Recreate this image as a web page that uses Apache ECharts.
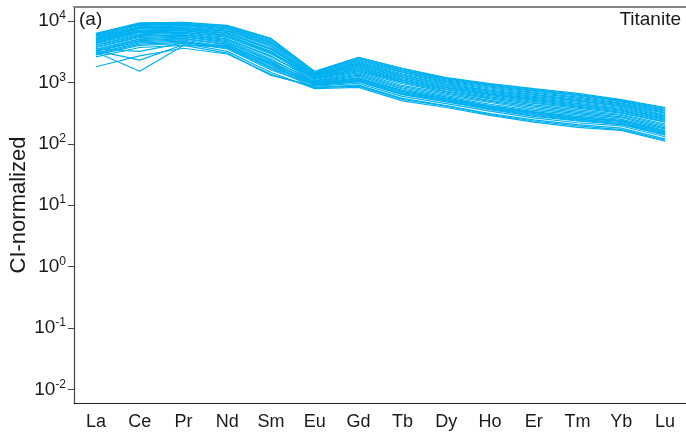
<!DOCTYPE html>
<html>
<head>
<meta charset="utf-8">
<script src="https://cdn.jsdelivr.net/npm/echarts@6/dist/echarts.min.js"></script>
<style>
html,body{margin:0;padding:0;background:#fff;}
#chart{width:686px;height:441px;}
</style>
</head>
<body>
<div id="chart"></div>
<script>
// Categories (REE) and y-axis tick exponents (10^n)
const categories = ['La','Ce','Pr','Nd','Sm','Eu','Gd','Tb','Dy','Ho','Er','Tm','Yb','Lu'];
const yTickExponents = [-2,-1,0,1,2,3,4];

// CI-normalized values, one array per titanite analysis
const s01 = [6300, 9300, 9500, 8500, 5200, 1480, 2510, 1660, 1170, 930, 770, 640, 510, 380];
const s02 = [6200, 9100, 9300, 8300, 5100, 1510, 2570, 1700, 1200, 955, 790, 660, 525, 390];
const s03 = [6000, 8900, 9100, 8100, 4900, 1450, 2340, 1550, 1100, 870, 720, 600, 480, 350];
const s04 = [5900, 8700, 8900, 7800, 4700, 1380, 2190, 1450, 1020, 810, 670, 555, 445, 325];
const s05 = [5800, 8500, 8700, 7600, 4500, 1470, 2430, 1580, 1140, 900, 740, 620, 495, 365];
const s06 = [5600, 8100, 8500, 7400, 4400, 1410, 2270, 1480, 1060, 840, 690, 575, 460, 340];
const s07 = [5400, 7900, 8300, 7100, 4200, 1310, 2000, 1290, 930, 720, 590, 495, 405, 290];
const s08 = [5200, 7800, 7900, 6900, 4000, 1350, 2120, 1380, 990, 780, 640, 530, 430, 315];
const s09 = [5100, 7600, 7800, 6800, 3800, 1260, 1860, 1200, 870, 670, 550, 455, 375, 270];
const s10 = [5000, 7400, 7600, 6500, 3600, 1320, 2040, 1320, 950, 750, 620, 510, 415, 300];
const s11 = [4900, 7100, 7400, 6300, 3500, 1200, 1740, 1100, 810, 630, 510, 425, 350, 250];
const s12 = [4800, 6900, 7200, 6200, 3400, 1290, 1910, 1230, 890, 700, 570, 475, 390, 280];
const s13 = [4600, 6800, 7100, 5900, 3200, 1170, 1620, 1020, 760, 580, 470, 395, 325, 230];
const s14 = [4500, 6600, 6900, 5800, 3100, 1230, 1780, 1150, 830, 650, 530, 440, 365, 260];
const s15 = [4400, 6500, 6600, 5600, 3000, 1120, 1500, 950, 700, 540, 430, 360, 300, 210];
const s16 = [4300, 6200, 6500, 5400, 2900, 1180, 1660, 1070, 780, 610, 490, 410, 340, 240];
const s17 = [4100, 6000, 6300, 5100, 2700, 1050, 1370, 850, 640, 490, 390, 325, 275, 190];
const s18 = [4000, 5800, 6000, 5000, 2600, 1150, 1550, 1000, 720, 560, 455, 380, 315, 225];
const s19 = [3800, 5600, 5900, 4800, 2400, 1000, 1250, 780, 580, 440, 350, 295, 250, 175];
const s20 = [3700, 5400, 5600, 4600, 2300, 1070, 1430, 890, 670, 510, 410, 340, 290, 200];
const s21 = [3500, 5100, 5500, 4400, 2200, 950, 1140, 710, 530, 400, 320, 265, 230, 155];
const s22 = [3400, 5000, 5200, 4200, 2000, 1020, 1310, 810, 610, 470, 370, 310, 265, 180];
const s23 = [3300, 4800, 5100, 4100, 1950, 890, 1020, 630, 480, 360, 280, 235, 205, 140];
const s24 = [3200, 4600, 4900, 3800, 1800, 980, 1190, 740, 560, 420, 335, 280, 240, 165];
const s25 = [3000, 4400, 4700, 3600, 1700, 830, 900, 550, 420, 310, 245, 205, 180, 120];
const s26 = [2900, 4200, 4500, 3500, 1600, 910, 1080, 660, 500, 380, 300, 250, 215, 145];
const s27 = [2800, 4000, 4300, 3200, 1450, 790, 830, 500, 390, 290, 225, 185, 165, 110];
const s28 = [2600, 3700, 4000, 3000, 1300, 870, 960, 590, 450, 340, 265, 220, 195, 130];
const s29 = [1800, 2700, 3600, 2900, 1350, 820, 870, 530, 410, 300, 235, 195, 170, 115];
const s30 = [3100, 1520, 4000, 3900, 1900, 940, 1100, 680, 520, 390, 310, 255, 220, 150];
const s31 = [3300, 2300, 4100, 3700, 1750, 920, 1050, 640, 490, 370, 290, 240, 210, 140];
const s32 = [3500, 3200, 4400, 4000, 2100, 960, 1160, 720, 540, 410, 325, 270, 235, 160];

const analyses = [s01,s02,s03,s04,s05,s06,s07,s08,s09,s10,s11,s12,s13,s14,s15,s16,
                  s17,s18,s19,s20,s21,s22,s23,s24,s25,s26,s27,s28,s29,s30,s31,s32];

const FONT = 'Liberation Sans, Arial, Helvetica, sans-serif';
const TXT = '#1a1a1a';
const LINE = '#00B0F0';

const chart = echarts.init(document.getElementById('chart'), null, {renderer: 'canvas'});
chart.setOption({
  animation: false,
  backgroundColor: '#ffffff',
  title: [
    {text: '(a)', left: 79, top: 10, padding: 0,
     textStyle: {fontFamily: FONT, fontSize: 19, fontWeight: 'normal', color: TXT}},
    {text: 'Titanite', right: 5, top: 10, padding: 0,
     textStyle: {fontFamily: FONT, fontSize: 19, fontWeight: 'normal', color: TXT}}
  ],
  grid: {left: 74, right: -1, top: 7, bottom: 38, containLabel: false, outerBoundsMode: 'none'},
  xAxis: [
    {
      type: 'category', data: categories, boundaryGap: true, position: 'bottom',
      axisLine: {onZero: false, lineStyle: {color: '#222', width: 1.2}},
      axisTick: {alignWithLabel: true, length: 6, lineStyle: {color: '#222'}},
      axisLabel: {fontFamily: FONT, fontSize: 18, color: TXT, margin: 10, interval: 0},
      splitLine: {show: false}
    },
    {
      type: 'category', data: categories, boundaryGap: true, position: 'top',
      axisLine: {onZero: false, lineStyle: {color: '#858585', width: 2}},
      axisTick: {show: false}, axisLabel: {show: false}, splitLine: {show: false}
    }
  ],
  yAxis: {
    type: 'value', min: -2.223, max: 4.228,
    name: 'CI-normalized', nameLocation: 'middle', nameGap: 44, nameRotate: 90,
    nameMoveOverlap: false,
    nameTextStyle: {fontFamily: FONT, fontSize: 22, color: TXT},
    axisLine: {show: true, onZero: false, lineStyle: {color: '#444', width: 1.2}},
    axisTick: {show: true, length: 6, customValues: yTickExponents, lineStyle: {color: '#444'}},
    axisLabel: {
      customValues: yTickExponents, margin: 8,
      formatter: v => '{b|10}{e|' + v + '}',
      rich: {
        b: {fontFamily: FONT, fontSize: 19, color: TXT, lineHeight: 22},
        e: {fontFamily: FONT, fontSize: 12, color: TXT, verticalAlign: 'top', lineHeight: 14}
      }
    },
    splitLine: {show: false}
  },
  series: analyses.map((arr, i) => ({
    name: 'sample' + (i + 1),
    type: 'line',
    xAxisIndex: 0,
    data: arr.map(v => Math.log10(v)),
    symbol: 'none',
    silent: true,
    lineStyle: {color: LINE, width: 1.2},
    z: 2
  }))
});
</script>
</body>
</html>
